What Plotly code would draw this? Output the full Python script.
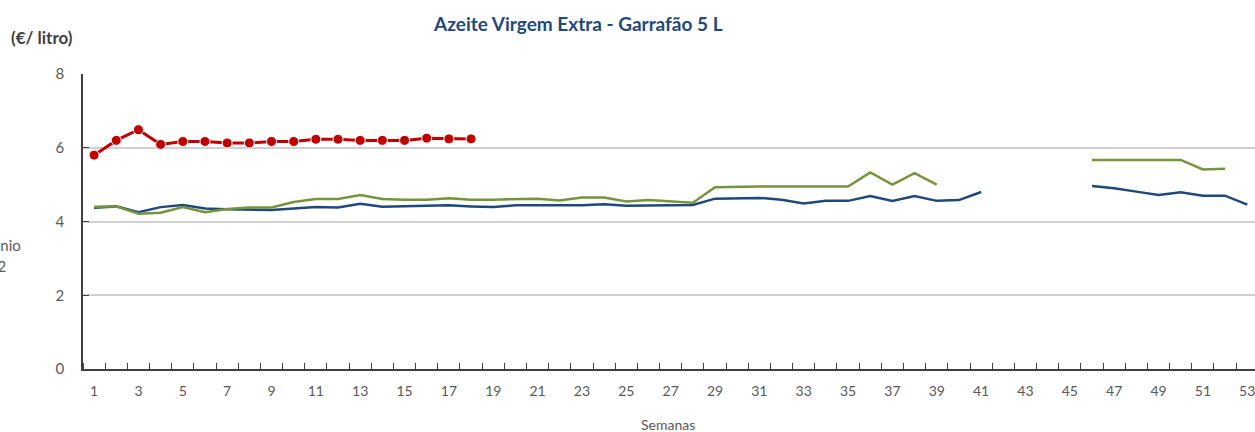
import plotly.graph_objects as go

weeks = list(range(1, 54))
tick_weeks = list(range(1, 54, 2))

serie_red = [5.80, 6.20, 6.49, 6.09, 6.17, 6.17, 6.13, 6.13, 6.17, 6.17,
             6.23, 6.23, 6.20, 6.20, 6.20, 6.26, 6.24, 6.24]

serie_green = [4.40, 4.41, 4.21, 4.24, 4.39, 4.25, 4.34, 4.38, 4.38, 4.53,
               4.61, 4.61, 4.72, 4.61, 4.59, 4.59, 4.63, 4.59, 4.59, 4.60,
               4.62, 4.57, 4.65, 4.65, 4.54, 4.58, 4.54, 4.51, 4.93, 4.95,
               4.95, 4.95, 4.95, 4.95, 4.95, 5.33, 5.00, 5.31, 5.00,
               None, None, None, None, None, None,
               5.67, 5.67, 5.67, 5.67, 5.67, 5.41, 5.43, None]

serie_blue = [4.37, 4.41, 4.25, 4.39, 4.45, 4.35, 4.33, 4.33, 4.31, 4.35,
              4.39, 4.38, 4.48, 4.40, 4.41, 4.42, 4.44, 4.41, 4.39, 4.44,
              4.45, 4.44, 4.44, 4.47, 4.43, 4.44, 4.43, 4.45, 4.62, 4.62,
              4.64, 4.59, 4.49, 4.56, 4.56, 4.69, 4.56, 4.69, 4.56, 4.58,
              4.80, None, None, None, None,
              4.96, 4.90, 4.81, 4.72, 4.79, 4.70, 4.70, 4.46]

FONT = "Lato"
GRAY = "#595959"

fig = go.Figure()
fig.add_trace(go.Scatter(x=weeks, y=serie_blue, mode="lines", name="Média quinquénio",
                         line=dict(color="#1F497D", width=2.5), connectgaps=False))
fig.add_trace(go.Scatter(x=weeks, y=serie_green, mode="lines", name="2022",
                         line=dict(color="#77933C", width=2.5), connectgaps=False))
fig.add_trace(go.Scatter(x=weeks[:len(serie_red)], y=serie_red, mode="lines+markers", name="2023",
                         line=dict(color="#C00000", width=3),
                         marker=dict(size=10, color="#C00000", line=dict(color="white", width=1))))

fig.update_layout(
    width=1255, height=432,
    margin=dict(l=83, r=0, t=74, b=63),
    paper_bgcolor="white", plot_bgcolor="white",
    showlegend=False,
    font=dict(family=FONT, size=14, color=GRAY),
)
fig.update_xaxes(
    range=[0.5, 53.35], tickmode="array", tickvals=tick_weeks,
    ticktext=[str(w) for w in tick_weeks],
    ticks="", showgrid=False, zeroline=False,
    showline=True, linecolor="#404040", linewidth=1.5,
    ticklabelstandoff=8, ticklabeloverflow="allow",
    tickfont=dict(family=FONT, size=14, color=GRAY),
    minor=dict(tickmode="array", tickvals=[w + 0.5 for w in range(0, 54)],
               ticks="inside", ticklen=6, tickcolor="#404040", tickwidth=1, showgrid=False),
)
fig.update_yaxes(
    range=[0, 8], tickvals=[0, 2, 4, 6, 8], ticks="inside", ticklen=6,
    tickcolor="#404040", showgrid=True, gridcolor="#D0D0D0", gridwidth=1.5,
    zeroline=False, showline=True, linecolor="#404040", linewidth=1.5,
    ticklabelstandoff=14,
    tickfont=dict(family=FONT, size=15, color=GRAY),
)

fig.add_annotation(text="<b>Azeite Virgem Extra - Garrafão 5 L</b>", xref="paper", yref="paper",
                   x=(578 - 83) / 1172, y=1 + (74 - 23) / 295, xanchor="center", yanchor="middle",
                   showarrow=False, font=dict(family=FONT, size=19, color="#1F497D"))
fig.add_annotation(text="<b>(€/ litro)</b>", xref="paper", yref="paper",
                   x=(9 - 83) / 1172, y=1 + (74 - 38) / 295, xanchor="left", yanchor="middle",
                   showarrow=False, font=dict(family=FONT, size=17, color="#404040"))
fig.add_annotation(text="Semanas", xref="paper", yref="paper",
                   x=(668 - 83) / 1172, y=-(424 - 369) / 295, xanchor="center", yanchor="middle",
                   showarrow=False, font=dict(family=FONT, size=14, color=GRAY))
fig.add_annotation(text="Média quinquénio", xref="paper", yref="paper",
                   x=(23 - 83) / 1172, y=(369 - 245) / 295, xanchor="right", yanchor="middle",
                   showarrow=False, font=dict(family=FONT, size=15, color=GRAY))
fig.add_annotation(text="2018-2022", xref="paper", yref="paper",
                   x=(8 - 83) / 1172, y=(369 - 266) / 295, xanchor="right", yanchor="middle",
                   showarrow=False, font=dict(family=FONT, size=15, color=GRAY))

fig.write_html("out.html", config={"displayModeBar": False},
               post_script="document.body.style.margin='0';")
